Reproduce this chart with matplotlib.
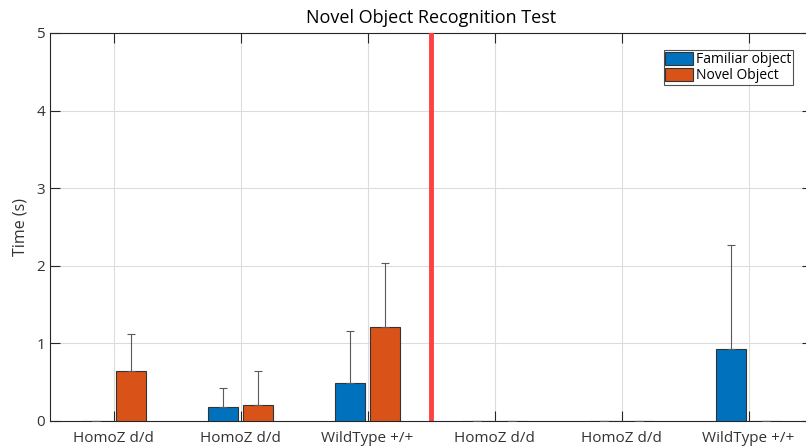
import matplotlib.pyplot as plt
import numpy as np

# data
groups = ['HomoZ d/d', 'HomoZ d/d', 'WildType +/+', 'HomoZ d/d', 'HomoZ d/d', 'WildType +/+']
familiar = [0.0, 0.18, 0.49, 0.0, 0.0, 0.93]
familiar_err = [0.0, 0.25, 0.67, 0.0, 0.0, 1.34]
novel = [0.65, 0.20, 1.21, 0.0, 0.0, 0.0]
novel_err = [0.47, 0.44, 0.83, 0.0, 0.0, 0.0]

plt.rcParams['font.family'] = ['Open Sans', 'DejaVu Sans']
txt = '#333333'

fig = plt.figure(figsize=(8.06, 4.46), dpi=100)
ax = fig.add_axes([50 / 806, 1 - 421 / 446, 762 / 806, 388 / 446])

x = np.arange(1, len(groups) + 1)
off = 0.14
w = 0.235
ax.bar(x - off, familiar, w, color='#0072BD', edgecolor='#333333', linewidth=0.8,
       label='Familiar object', zorder=3)
ax.bar(x + off, novel, w, color='#D95319', edgecolor='#333333', linewidth=0.8,
       label='Novel Object', zorder=3)
ax.errorbar(x - off, familiar, yerr=[np.zeros(len(x)), familiar_err], fmt='none',
            ecolor='#5a5a5a', elinewidth=0.8, capsize=3, capthick=0.8, zorder=4)
ax.errorbar(x + off, novel, yerr=[np.zeros(len(x)), novel_err], fmt='none',
            ecolor='#5a5a5a', elinewidth=0.8, capsize=3, capthick=0.8, zorder=4)

ax.axvline(3.5, color='#FF4040', linewidth=3.5, zorder=5)

ax.set_xlim(0.5, 6.5)
ax.set_ylim(0, 5)
ax.set_xticks(x)
ax.set_xticklabels(groups)
ax.set_yticks(range(0, 6))
ax.grid(True, color='#dcdcdc', linewidth=0.8, zorder=0)
ax.set_axisbelow(True)
ax.tick_params(direction='in', length=7, width=0.8, colors='#262626',
               labelcolor=txt, labelsize=11, top=True, right=True)
ax.tick_params(axis='x', pad=7)
for s in ax.spines.values():
    s.set_color('#262626')
    s.set_linewidth(0.8)

ax.set_ylabel('Time (s)', fontsize=11.5, color=txt, labelpad=6)
ax.set_title('Novel Object Recognition Test', fontsize=13, color='black', pad=7)

leg = ax.legend(loc='upper right', bbox_to_anchor=(793 / 806, 1 - 50 / 446),
                bbox_transform=fig.transFigure, fontsize=10, frameon=True,
                fancybox=False, edgecolor='#262626', handlelength=2.0,
                handleheight=1.1, handletextpad=0.2, borderpad=0.12,
                labelspacing=0.05, borderaxespad=0)
leg.get_frame().set_linewidth(0.8)

fig.savefig('out.png', dpi=100)
